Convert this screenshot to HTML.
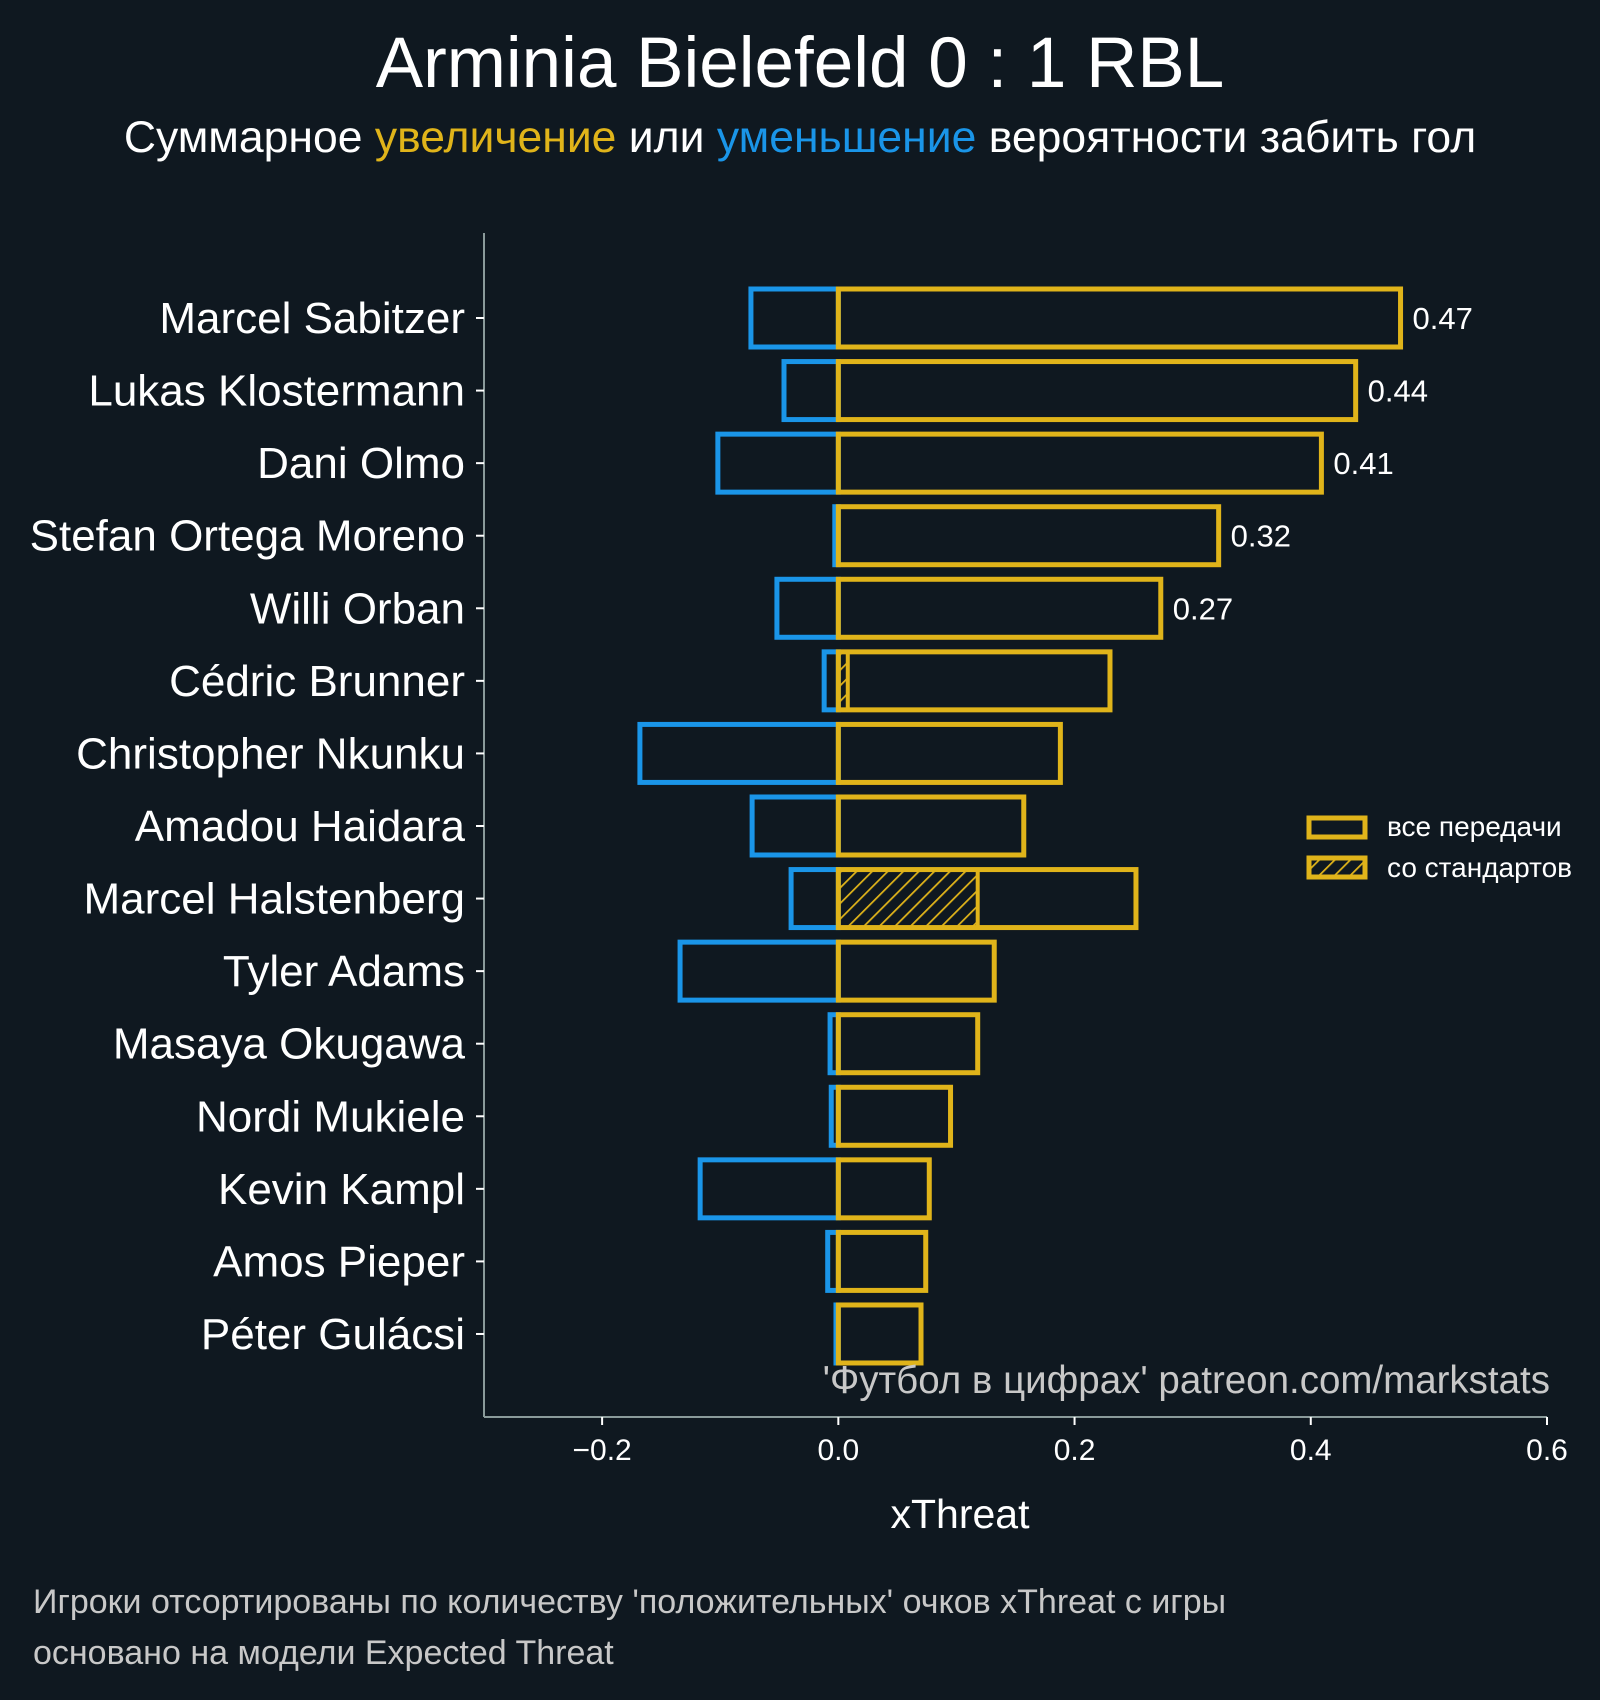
<!DOCTYPE html>
<html><head><meta charset="utf-8"><style>
html,body{margin:0;padding:0;background:#0f1820;}
svg{display:block;font-family:"Liberation Sans","DejaVu Sans",sans-serif;}
</style></head><body>
<svg id="chart" width="1600" height="1700" viewBox="0 0 1600 1700">
<defs>
<pattern id="hatch" patternUnits="userSpaceOnUse" width="11" height="11" patternTransform="rotate(45)">
<line x1="0" y1="0" x2="0" y2="11" stroke="#e0b41a" stroke-width="3.5"/>
</pattern>
</defs>
<rect width="1600" height="1700" fill="#0f1820"/>
<text x="800" y="87" font-size="71" fill="#fff" text-anchor="middle">Arminia Bielefeld 0 : 1 RBL</text>
<text x="800" y="152" font-size="44.5" fill="#fff" text-anchor="middle">Суммарное <tspan fill="#e0b41a">увеличение</tspan> или <tspan fill="#1a95e8">уменьшение</tspan> вероятности забить гол</text>
<g id="plot"></g>
<text x="960" y="1528" font-size="41" fill="#fff" text-anchor="middle">xThreat</text>
<text x="1550" y="1393" font-size="38.5" fill="#c8c8c8" text-anchor="end">'Футбол в цифрах' patreon.com/markstats</text>
<rect x="1309" y="818" width="56" height="19" fill="none" stroke="#e0b41a" stroke-width="5"/>
<text x="1387" y="836" font-size="28" fill="#fff">все передачи</text>
<rect x="1309" y="858" width="56" height="19" fill="url(#hatch)" stroke="#e0b41a" stroke-width="5"/>
<text x="1387" y="877" font-size="28" fill="#fff">со стандартов</text>
<text x="33" y="1613" font-size="34" fill="#c8c8c8">Игроки отсортированы по количеству 'положительных' очков xThreat с игры</text>
<text x="33" y="1664" font-size="34" fill="#c8c8c8">основано на модели Expected Threat</text>
</svg>
<script>
const players = ["Marcel Sabitzer","Lukas Klostermann","Dani Olmo","Stefan Ortega Moreno","Willi Orban","Cédric Brunner","Christopher Nkunku","Amadou Haidara","Marcel Halstenberg","Tyler Adams","Masaya Okugawa","Nordi Mukiele","Kevin Kampl","Amos Pieper","Péter Gulácsi"];
const positive = [0.476,0.438,0.409,0.322,0.273,0.230,0.188,0.157,0.252,0.132,0.118,0.095,0.077,0.074,0.070];
const negative = [-0.074,-0.046,-0.102,-0.003,-0.052,-0.012,-0.168,-0.073,-0.040,-0.134,-0.007,-0.006,-0.117,-0.009,-0.002];
const setPieces = [0,0,0,0,0,0.008,0,0,0.118,0,0,0,0,0,0];
const valueLabels = ["0.47","0.44","0.41","0.32","0.27"];
const xTicks = [-0.2,0.0,0.2,0.4,0.6];
const xTickLabels = ["−0.2","0.0","0.2","0.4","0.6"];

const NS="http://www.w3.org/2000/svg";
const g=document.getElementById('plot');
const X0=484,X1=1547,XMIN=-0.3,XMAX=0.6;
const x=v=>X0+(v-XMIN)/(XMAX-XMIN)*(X1-X0);
const YTOP=233,YBOT=1417;
const y=i=>318+i*72.57;
const BH=58;
function mk(tag,attrs){const e=document.createElementNS(NS,tag);for(const k in attrs)e.setAttribute(k,attrs[k]);g.appendChild(e);return e;}

const sp1=mk('line',{x1:X0,y1:YTOP,x2:X0,y2:YBOT,stroke:'#8a9a9a','stroke-width':2});


const sp2=mk('line',{x1:X0,y1:YBOT,x2:X1,y2:YBOT,stroke:'#8a9a9a','stroke-width':2});



xTicks.forEach((t,i)=>{
  const l=mk('line',{x1:x(t),y1:YBOT,x2:x(t),y2:YBOT+8,stroke:'#fff','stroke-width':2});
  
  
  const tx=mk('text',{x:x(t),y:1460,'font-size':30,fill:'#fff','text-anchor':'middle'});
  tx.textContent=xTickLabels[i];
  
  
});

players.forEach((p,i)=>{
  const cy=y(i);
  const tk=mk('line',{x1:X0-8,y1:cy,x2:X0,y2:cy,stroke:'#fff','stroke-width':2});
  
  
  const lb=mk('text',{x:465,y:cy+15,'font-size':44,fill:'#fff','text-anchor':'end'});
  lb.textContent=p;
  
  
  const nb=mk('rect',{x:x(negative[i]),y:cy-BH/2,width:x(0)-x(negative[i]),height:BH,fill:'none',stroke:'#1a95e8','stroke-width':5});
  
  
  if(setPieces[i]>0){
    const hb=mk('rect',{x:x(0),y:cy-BH/2,width:x(setPieces[i])-x(0),height:BH,fill:'url(#hatch)',stroke:'#e0b41a','stroke-width':4});
    
    
  }
  const pb=mk('rect',{x:x(0),y:cy-BH/2,width:x(positive[i])-x(0),height:BH,fill:'none',stroke:'#e0b41a','stroke-width':5});
  
  
  if(i<valueLabels.length){
    const vl=mk('text',{x:x(positive[i])+12,y:cy+11,'font-size':31,fill:'#fff'});
    vl.textContent=valueLabels[i];
    
    
  }
});
</script>
</body></html>
